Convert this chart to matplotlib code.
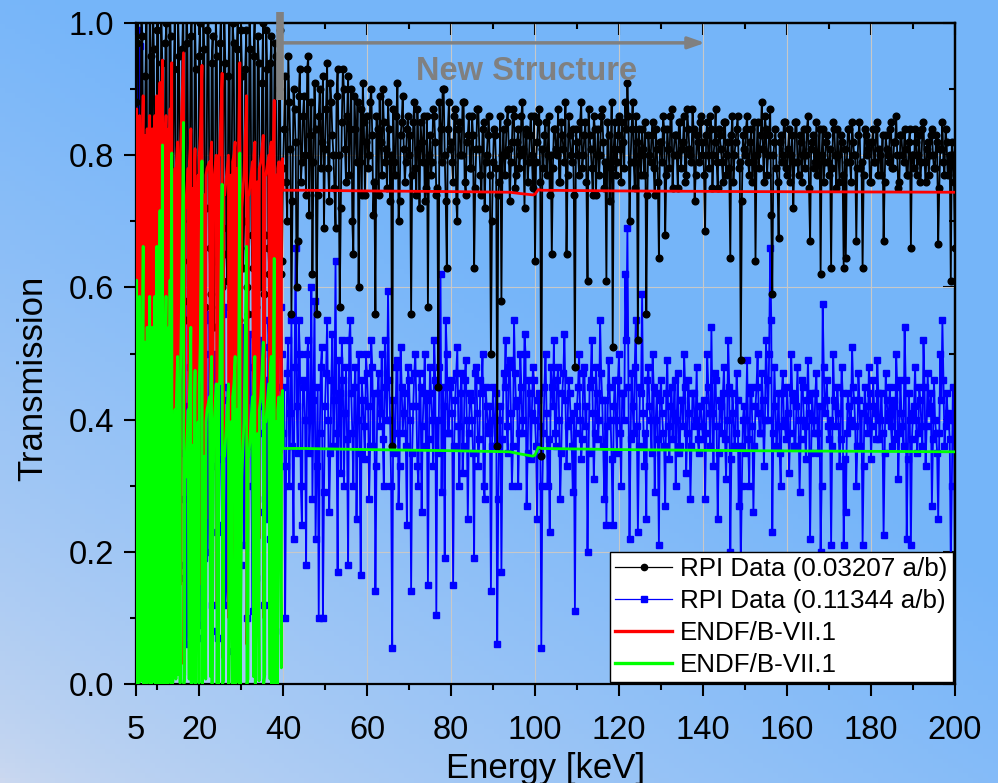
import numpy as np
import matplotlib
matplotlib.use("Agg")
import matplotlib.pyplot as plt
from matplotlib.lines import Line2D

plt.rcParams['font.family'] = ['Liberation Sans', 'DejaVu Sans']

# sample thicknesses (atoms/barn) from the legend
n_thin = 0.03207
n_thick = 0.11344

# RPI measured transmission, read on two interleaved 0.5 keV grids
energy_a = np.linspace(5, 200, 391)        # 5.0, 5.5, ... 200.0
energy_b = np.linspace(5.25, 199.75, 390)  # 5.25, 5.75, ... 199.75

thin_a = [
    0.88, 1.02, 0.62, 0.98, 0.70, 1.03, 0.58, 0.95, 1.04, 0.66, 0.99, 0.52, 1.02, 0.74, 0.97, 0.60, 1.05, 0.68, 0.93, 0.56,
    1.01, 0.72, 0.96, 0.58, 1.04, 0.64, 0.98, 0.50, 1.02, 0.70, 0.95, 0.61, 1.03, 0.57, 0.99, 0.66, 0.94, 0.54, 1.01, 0.69,
    0.97, 0.60, 1.03, 0.65, 0.92, 0.58, 1.00, 0.71, 0.96, 0.55, 0.99, 0.63, 0.93, 0.60, 1.02, 0.68, 0.95, 0.57, 0.98, 0.64,
    0.91, 0.59, 0.99, 0.66, 0.94, 0.61, 0.97, 0.70, 0.90, 0.62,
    0.78, 0.92, 0.70, 0.88, 0.56, 0.90, 0.82, 0.67, 0.93, 0.79, 0.89, 0.74, 0.95, 0.83, 0.62, 0.91, 0.56, 0.86, 0.78, 0.92,
    0.81, 0.94, 0.73, 0.88, 0.80, 0.69, 0.93, 0.57, 0.85, 0.90, 0.76, 0.92, 0.84, 0.70, 0.89, 0.79, 0.60, 0.87, 0.91, 0.74,
    0.86, 0.80, 0.90, 0.71, 0.56, 0.84, 0.89, 0.77, 0.85, 0.81, 0.88, 0.73, 0.36, 0.79, 0.86, 0.70, 0.83, 0.89, 0.76, 0.84,
    0.80, 0.56, 0.85, 0.78, 0.87, 0.72, 0.82, 0.86, 0.75, 0.57, 0.83, 0.79, 0.86, 0.74, 0.45, 0.84, 0.90, 0.80, 0.63, 0.88,
    0.82, 0.76, 0.87, 0.70, 0.85, 0.80, 0.88, 0.74, 0.83, 0.78, 0.86, 0.63, 0.81, 0.87, 0.77, 0.84, 0.72, 0.80, 0.86, 0.50,
    0.79, 0.83, 0.36, 0.76, 0.58, 0.84, 0.80, 0.87, 0.73, 0.82, 0.86, 0.77, 0.84, 0.80, 0.88, 0.72, 0.83, 0.79, 0.86, 0.75,
    0.64, 0.82, 0.87, 0.345, 0.78, 0.85, 0.80, 0.74, 0.65, 0.84, 0.81, 0.87, 0.76, 0.83, 0.79, 0.65, 0.86, 0.80, 0.84, 0.48,
    0.82, 0.77, 0.88, 0.80, 0.85, 0.61, 0.83, 0.78, 0.86, 0.74, 0.84, 0.80, 0.87, 0.75, 0.61, 0.83, 0.78, 0.51, 0.85, 0.79,
    0.86, 0.76, 0.82, 0.88, 0.91, 0.70, 0.84, 0.79, 0.86, 0.52, 0.80, 0.84, 0.77, 0.56, 0.83, 0.79, 0.85, 0.74, 0.81, 0.645,
    0.82, 0.86, 0.68, 0.84, 0.78, 0.87, 0.80, 0.83, 0.75, 0.85, 0.81, 0.86, 0.77, 0.84, 0.80, 0.87, 0.73, 0.83, 0.79, 0.86,
    0.82, 0.685, 0.85, 0.78, 0.84, 0.80, 0.87, 0.75, 0.83, 0.79, 0.85, 0.77, 0.82, 0.645, 0.86, 0.80, 0.84, 0.78, 0.49, 0.83,
    0.80, 0.86, 0.77, 0.84, 0.79, 0.64, 0.85, 0.81, 0.88, 0.76, 0.84, 0.80, 0.87, 0.59, 0.82, 0.78, 0.675, 0.83, 0.80, 0.85,
    0.77, 0.84, 0.80, 0.72, 0.85, 0.79, 0.83, 0.76, 0.84, 0.80, 0.86, 0.67, 0.82, 0.78, 0.85, 0.80, 0.62, 0.84, 0.79, 0.83,
    0.77, 0.63, 0.85, 0.80, 0.84, 0.76, 0.82, 0.63, 0.645, 0.84, 0.79, 0.85, 0.80, 0.67, 0.83, 0.78, 0.63, 0.84, 0.80, 0.82,
    0.76, 0.84, 0.79, 0.85, 0.81, 0.77, 0.67, 0.83, 0.80, 0.84, 0.78, 0.82, 0.86, 0.75, 0.83, 0.80, 0.84, 0.77, 0.82, 0.66,
    0.80, 0.84, 0.77, 0.83, 0.79, 0.85, 0.76, 0.82, 0.80, 0.84, 0.78, 0.83, 0.665, 0.81, 0.85, 0.77, 0.82, 0.79, 0.61, 0.80,
    0.66,
]
thin_b = [
    0.97, 0.60, 1.02, 0.75, 0.92, 0.55, 1.01, 0.68, 0.96, 0.59, 1.03, 0.71, 0.94, 0.63, 1.00, 0.57, 0.98, 0.73, 1.02, 0.61,
    0.95, 0.66, 1.03, 0.55, 0.97, 0.70, 1.01, 0.62, 0.93, 0.58, 1.00, 0.67, 0.96, 0.72, 1.02, 0.59, 0.98, 0.64, 0.95, 0.57,
    1.02, 0.69, 0.94, 0.61, 1.01, 0.74, 0.97, 0.58, 1.03, 0.66, 0.92, 0.70, 0.99, 0.56, 0.96, 0.63, 1.01, 0.72, 0.94, 0.60,
    1.00, 0.68, 0.93, 0.62, 0.98, 0.73, 0.95, 0.66, 0.99, 0.64,
    0.84, 0.76, 0.95, 0.81, 0.73, 0.87, 0.60, 0.89, 0.76, 0.86, 0.80, 0.93, 0.71, 0.88, 0.79, 0.84, 0.74, 0.90, 0.82, 0.69,
    0.87, 0.78, 0.91, 0.83, 0.75, 0.89, 0.80, 0.72, 0.93, 0.81, 0.86, 0.77, 0.90, 0.65, 0.84, 0.88, 0.79, 0.74, 0.85, 0.82,
    0.78, 0.88, 0.83, 0.76, 0.86, 0.74, 0.82, 0.90, 0.79, 0.75, 0.84, 0.80, 0.87, 0.77, 0.91, 0.73, 0.85, 0.81, 0.79, 0.86,
    0.83, 0.77, 0.88, 0.74, 0.81, 0.85, 0.79, 0.73, 0.86, 0.80, 0.77, 0.87, 0.82, 0.75, 0.88, 0.79, 0.90, 0.73, 0.84, 0.81,
    0.79, 0.86, 0.73, 0.84, 0.80, 0.88, 0.76, 0.82, 0.86, 0.78, 0.83, 0.75, 0.87, 0.81, 0.74, 0.85, 0.79, 0.83, 0.77, 0.70,
    0.84, 0.78, 0.74, 0.86, 0.80, 0.77, 0.85, 0.81, 0.79, 0.87, 0.75, 0.82, 0.78, 0.86, 0.81, 0.84, 0.76, 0.83, 0.80, 0.86,
    0.79, 0.85, 0.76, 0.81, 0.83, 0.77, 0.86, 0.80, 0.78, 0.84, 0.80, 0.76, 0.85, 0.81, 0.88, 0.77, 0.83, 0.79, 0.74, 0.84,
    0.80, 0.85, 0.78, 0.83, 0.76, 0.87, 0.81, 0.74, 0.84, 0.80, 0.77, 0.86, 0.82, 0.79, 0.85, 0.73, 0.88, 0.81, 0.77, 0.83,
    0.81, 0.85, 0.78, 0.84, 0.86, 0.79, 0.88, 0.75, 0.82, 0.84, 0.77, 0.81, 0.85, 0.74, 0.80, 0.83, 0.78, 0.84, 0.76, 0.82,
    0.79, 0.84, 0.77, 0.81, 0.86, 0.75, 0.83, 0.80, 0.85, 0.78, 0.82, 0.76, 0.87, 0.81, 0.79, 0.84, 0.77, 0.82, 0.85, 0.80,
    0.77, 0.83, 0.80, 0.86, 0.75, 0.82, 0.79, 0.84, 0.81, 0.76, 0.85, 0.80, 0.78, 0.83, 0.76, 0.82, 0.86, 0.79, 0.73, 0.81,
    0.84, 0.79, 0.82, 0.76, 0.85, 0.80, 0.78, 0.83, 0.81, 0.86, 0.77, 0.83, 0.71, 0.80, 0.84, 0.76, 0.82, 0.79, 0.85, 0.78,
    0.81, 0.76, 0.83, 0.79, 0.85, 0.77, 0.82, 0.80, 0.78, 0.84, 0.75, 0.81, 0.83, 0.79, 0.77, 0.84, 0.80, 0.76, 0.82, 0.79,
    0.81, 0.78, 0.84, 0.75, 0.80, 0.83, 0.77, 0.81, 0.79, 0.84, 0.76, 0.82, 0.80, 0.78, 0.85, 0.79, 0.77, 0.83, 0.81, 0.76,
    0.82, 0.79, 0.84, 0.77, 0.80, 0.83, 0.76, 0.81, 0.79, 0.85, 0.78, 0.82, 0.80, 0.76, 0.83, 0.79, 0.81, 0.77, 0.84, 0.80,
    0.78, 0.82, 0.80, 0.76, 0.84, 0.79, 0.81, 0.77, 0.83, 0.80, 0.78, 0.82, 0.75, 0.81, 0.79, 0.84, 0.77, 0.80, 0.82, 0.76,
]

thick_a = [
    0.42, 0.99, 0.965, 0.25, 0.52, 0.20, 0.45, 0.08, 0.40, 0.55, 0.15, 0.48, 0.05, 0.38, 0.58, 0.22, 0.44, 0.10, 0.50, 0.04,
    0.46, 0.18, 0.55, 0.28, 0.06, 0.42, 0.52, 0.14, 0.47, 0.25, 0.58, 0.09, 0.40, 0.50, 0.20, 0.56, 0.12, 0.44, 0.33, 0.07,
    0.49, 0.24, 0.57, 0.15, 0.43, 0.35, 0.05, 0.51, 0.28, 0.46, 0.18, 0.54, 0.38, 0.10, 0.48, 0.30, 0.56, 0.16, 0.42, 0.26,
    0.50, 0.12, 0.45, 0.55, 0.22, 0.48, 0.08, 0.52, 0.36, 0.57,
    0.38, 0.10, 0.47, 0.30, 0.55, 0.22, 0.66, 0.35, 0.50, 0.24, 0.45, 0.18, 0.52, 0.40, 0.28, 0.58, 0.33, 0.10, 0.48, 0.10,
    0.42, 0.55, 0.26, 0.46, 0.36, 0.64, 0.17, 0.44, 0.52, 0.30, 0.48, 0.18, 0.55, 0.38, 0.45, 0.25, 0.50, 0.165, 0.43, 0.34,
    0.47, 0.28, 0.52, 0.36, 0.14, 0.44, 0.39, 0.50, 0.30, 0.45, 0.595, 0.40, 0.055, 0.35, 0.48, 0.27, 0.51, 0.38, 0.44, 0.24,
    0.46, 0.14, 0.42, 0.50, 0.33, 0.47, 0.26, 0.44, 0.36, 0.15, 0.48, 0.40, 0.52, 0.105, 0.35, 0.62, 0.45, 0.19, 0.50, 0.38,
    0.46, 0.15, 0.43, 0.51, 0.30, 0.47, 0.36, 0.49, 0.25, 0.44, 0.40, 0.19, 0.48, 0.33, 0.46, 0.50, 0.28, 0.42, 0.38, 0.14,
    0.45, 0.36, 0.06, 0.40, 0.17, 0.47, 0.52, 0.35, 0.49, 0.30, 0.55, 0.42, 0.30, 0.50, 0.38, 0.53, 0.27, 0.46, 0.34, 0.48,
    0.40, 0.25, 0.44, 0.055, 0.38, 0.50, 0.30, 0.23, 0.45, 0.52, 0.36, 0.48, 0.28, 0.44, 0.53, 0.33, 0.46, 0.40, 0.29, 0.11,
    0.42, 0.50, 0.34, 0.47, 0.39, 0.20, 0.45, 0.52, 0.31, 0.48, 0.37, 0.55, 0.43, 0.28, 0.24, 0.49, 0.40, 0.24, 0.46, 0.35,
    0.50, 0.30, 0.44, 0.62, 0.69, 0.22, 0.47, 0.38, 0.55, 0.23, 0.45, 0.59, 0.33, 0.25, 0.48, 0.40, 0.50, 0.29, 0.44, 0.21,
    0.46, 0.38, 0.27, 0.49, 0.34, 0.45, 0.41, 0.30, 0.47, 0.36, 0.43, 0.50, 0.32, 0.46, 0.28, 0.44, 0.39, 0.48, 0.35, 0.42,
    0.37, 0.28, 0.50, 0.41, 0.54, 0.33, 0.46, 0.25, 0.43, 0.38, 0.48, 0.31, 0.52, 0.20, 0.44, 0.36, 0.47, 0.27, 0.18, 0.40,
    0.35, 0.49, 0.30, 0.45, 0.26, 0.42, 0.50, 0.38, 0.47, 0.33, 0.52, 0.40, 0.66, 0.23, 0.48, 0.36, 0.44, 0.30, 0.47, 0.39,
    0.45, 0.32, 0.50, 0.43, 0.36, 0.48, 0.29, 0.46, 0.40, 0.34, 0.49, 0.22, 0.44, 0.38, 0.47, 0.35, 0.20, 0.575, 0.41, 0.46,
    0.37, 0.21, 0.50, 0.42, 0.45, 0.33, 0.48, 0.21, 0.26, 0.44, 0.39, 0.51, 0.43, 0.30, 0.47, 0.36, 0.21, 0.45, 0.40, 0.48,
    0.34, 0.46, 0.41, 0.49, 0.37, 0.44, 0.225, 0.47, 0.40, 0.45, 0.36, 0.43, 0.50, 0.31, 0.46, 0.39, 0.54, 0.22, 0.44, 0.21,
    0.41, 0.48, 0.35, 0.45, 0.39, 0.52, 0.33, 0.47, 0.42, 0.27, 0.46, 0.38, 0.25, 0.50, 0.55, 0.36, 0.44, 0.40, 0.18, 0.45,
    0.17,
]
thick_b = [
    0.30, 0.55, 0.18, 0.47, 0.09, 0.52, 0.26, 0.42, 0.13, 0.57, 0.33, 0.06, 0.49, 0.21, 0.44, 0.54, 0.11, 0.39, 0.27, 0.50,
    0.16, 0.45, 0.35, 0.58, 0.10, 0.48, 0.24, 0.53, 0.31, 0.07, 0.46, 0.37, 0.19, 0.55, 0.29, 0.41, 0.08, 0.50, 0.23, 0.47,
    0.34, 0.56, 0.12, 0.45, 0.27, 0.52, 0.40, 0.14, 0.55, 0.32, 0.47, 0.21, 0.43, 0.36, 0.53, 0.11, 0.49, 0.28, 0.44, 0.52,
    0.38, 0.46, 0.25, 0.51, 0.41, 0.30, 0.54, 0.45, 0.33, 0.50,
    0.45, 0.33, 0.52, 0.41, 0.36, 0.48, 0.42, 0.55, 0.30, 0.46, 0.40, 0.50, 0.35, 0.60, 0.43, 0.22, 0.45, 0.38, 0.51, 0.29,
    0.47, 0.40, 0.35, 0.53, 0.43, 0.38, 0.49, 0.32, 0.46, 0.41, 0.37, 0.52, 0.44, 0.30, 0.48, 0.40, 0.35, 0.46, 0.39, 0.50,
    0.42, 0.36, 0.48, 0.44, 0.33, 0.47, 0.41, 0.37, 0.52, 0.40, 0.46, 0.30, 0.43, 0.38, 0.49, 0.33, 0.45, 0.41, 0.36, 0.48,
    0.40, 0.35, 0.47, 0.42, 0.30, 0.45, 0.39, 0.50, 0.43, 0.37, 0.44, 0.33, 0.46, 0.40, 0.48, 0.29, 0.42, 0.55, 0.38, 0.45,
    0.41, 0.36, 0.47, 0.39, 0.44, 0.32, 0.46, 0.40, 0.38, 0.43, 0.35, 0.47, 0.41, 0.37, 0.44, 0.30, 0.45, 0.39, 0.42, 0.36,
    0.40, 0.44, 0.28, 0.42, 0.37, 0.45, 0.39, 0.48, 0.41, 0.36, 0.47, 0.43, 0.38, 0.45, 0.40, 0.50, 0.35, 0.44, 0.41, 0.46,
    0.36, 0.43, 0.39, 0.30, 0.45, 0.41, 0.37, 0.48, 0.42, 0.38, 0.46, 0.40, 0.35, 0.47, 0.43, 0.39, 0.44, 0.36, 0.41, 0.38,
    0.45, 0.40, 0.37, 0.48, 0.42, 0.35, 0.46, 0.41, 0.38, 0.44, 0.40, 0.47, 0.36, 0.43, 0.39, 0.45, 0.34, 0.42, 0.40, 0.46,
    0.38, 0.44, 0.40, 0.52, 0.45, 0.37, 0.42, 0.48, 0.39, 0.36, 0.44, 0.41, 0.38, 0.46, 0.42, 0.35, 0.45, 0.40, 0.37, 0.43,
    0.41, 0.36, 0.44, 0.39, 0.42, 0.37, 0.46, 0.40, 0.35, 0.43, 0.39, 0.45, 0.38, 0.41, 0.36, 0.44, 0.40, 0.37, 0.42, 0.39,
    0.43, 0.38, 0.45, 0.36, 0.41, 0.47, 0.39, 0.35, 0.42, 0.44, 0.37, 0.40, 0.45, 0.34, 0.41, 0.38, 0.43, 0.36, 0.30, 0.42,
    0.40, 0.37, 0.44, 0.39, 0.36, 0.45, 0.41, 0.38, 0.43, 0.40, 0.46, 0.50, 0.55, 0.38, 0.42, 0.39, 0.35, 0.44, 0.40, 0.37,
    0.41, 0.38, 0.44, 0.36, 0.42, 0.40, 0.37, 0.45, 0.39, 0.43, 0.41, 0.35, 0.40, 0.44, 0.38, 0.42, 0.30, 0.48, 0.43, 0.39,
    0.40, 0.36, 0.43, 0.39, 0.41, 0.37, 0.44, 0.34, 0.38, 0.42, 0.40, 0.45, 0.39, 0.36, 0.43, 0.41, 0.33, 0.42, 0.38, 0.44,
    0.39, 0.42, 0.37, 0.44, 0.40, 0.38, 0.35, 0.43, 0.41, 0.39, 0.42, 0.37, 0.45, 0.38, 0.41, 0.36, 0.46, 0.34, 0.40, 0.37,
    0.42, 0.40, 0.38, 0.43, 0.36, 0.45, 0.39, 0.41, 0.44, 0.37, 0.40, 0.35, 0.38, 0.43, 0.46, 0.39, 0.41, 0.37, 0.30, 0.40,
]

# ENDF/B-VII.1 calculated transmission for the thin sample (resonance region + smooth part)
endf_e = [
    5.0, 5.15, 5.25, 5.45, 5.7, 5.85, 6.0, 6.25, 6.55, 6.7, 6.8, 7.0, 7.15, 7.3, 7.45, 7.65, 7.9, 8.1, 8.25, 8.35,
    8.6, 8.85, 9.05, 9.3, 9.5, 9.6, 9.85, 9.95, 10.05, 10.3, 10.55, 10.7, 10.8, 11.05, 11.3, 11.4, 11.7, 11.95, 12.15, 12.25,
    12.55, 12.8, 13.1, 13.5, 13.6, 13.95, 14.3, 14.7, 14.9, 15.0, 15.3, 15.8, 16.3, 16.4, 16.8, 17.4, 17.9, 18.05, 18.15, 18.6,
    19.05, 19.2, 19.3, 19.8, 20.3, 20.7, 20.8, 21.3, 21.9, 22.5, 23.0, 23.1, 23.5, 24.1, 24.3, 24.4, 24.9, 25.5, 25.6, 26.1,
    26.7, 27.0, 27.1, 27.6, 28.3, 28.6, 28.7, 29.1, 29.7, 29.8, 30.2, 30.7, 31.3, 31.4, 31.9, 32.7, 33.3, 33.4, 33.9, 34.7,
    35.3, 35.4, 35.9, 36.6, 37.2, 37.3, 37.7, 37.9, 38.0, 38.4, 39.0, 39.9, 40.0, 45.0, 60.0, 80.0, 94.0, 96.5, 99.5, 100.0,
    100.8, 101.5, 120.0, 150.0, 200.0,
    # smaller resonances in between
    5.05, 5.1, 5.55, 5.6, 6.4, 6.45, 6.9, 6.95, 7.55, 7.6, 8.0, 8.05, 8.45, 8.5, 8.7, 8.75, 9.2, 9.25, 9.7, 9.75,
    10.15, 10.2, 10.4, 10.45, 10.9, 10.95, 11.55, 11.6, 11.85, 11.9, 12.4, 12.45, 12.65, 12.7, 12.95, 13.0, 13.25, 13.3,
    13.8, 13.85, 14.5, 14.55, 15.5, 15.55, 16.6, 16.65, 17.65, 17.7,
    18.85, 18.9, 20.0, 20.05, 21.6, 21.65, 22.75, 22.8,
    24.65, 24.7, 25.85, 25.9, 27.95, 28.0, 29.4, 29.45,
    31.65, 31.7, 33.0, 33.05, 34.3, 34.35, 35.65, 35.7,
    36.9, 36.95, 38.7, 38.75, 39.6, 39.65,
]
endf_thin = [
    0.84, 0.87, 0.08, 0.70, 0.82, 0.86, 0.20, 0.78, 0.84, 0.89, 0.12, 0.72, 0.83, 0.25, 0.79, 0.84, 0.30, 0.80, 0.86, 0.10,
    0.78, 0.84, 0.40, 0.82, 0.86, 0.06, 0.80, 0.89, 0.22, 0.79, 0.84, 0.91, 0.10, 0.80, 0.944, 0.04, 0.76, 0.83, 0.86, 0.09,
    0.78, 0.84, 0.87, 0.94, 0.05, 0.70, 0.78, 0.80, 0.82, 0.30, 0.78, 0.85, 0.955, 0.03, 0.72, 0.78, 0.81, 0.84, 0.10, 0.75,
    0.81, 0.14, 0.60, 0.77, 0.83, 0.936, 0.05, 0.74, 0.78, 0.79, 0.82, 0.08, 0.76, 0.80, 0.12, 0.55, 0.80, 0.924, 0.04, 0.74,
    0.78, 0.80, 0.10, 0.77, 0.80, 0.82, 0.14, 0.78, 0.94, 0.05, 0.72, 0.77, 0.89, 0.06, 0.74, 0.79, 0.82, 0.08, 0.76, 0.79,
    0.83, 0.10, 0.77, 0.80, 0.82, 0.12, 0.80, 0.883, 0.06, 0.77, 0.79, 0.795, 0.747, 0.747, 0.746, 0.745, 0.744, 0.742, 0.740, 0.741,
    0.748, 0.747, 0.746, 0.745, 0.744,
    0.30, 0.80, 0.15, 0.76, 0.25, 0.80, 0.35, 0.70, 0.10, 0.78, 0.20, 0.78, 0.30, 0.74, 0.15, 0.79, 0.20, 0.78, 0.25, 0.78,
    0.35, 0.76, 0.10, 0.80, 0.30, 0.78, 0.20, 0.74, 0.12, 0.80, 0.25, 0.76, 0.15, 0.80, 0.30, 0.82, 0.18, 0.84,
    0.20, 0.70, 0.25, 0.78, 0.15, 0.80, 0.30, 0.72, 0.25, 0.79,
    0.18, 0.78, 0.15, 0.80, 0.25, 0.77, 0.28, 0.80,
    0.15, 0.80, 0.22, 0.74, 0.12, 0.79, 0.18, 0.82,
    0.25, 0.74, 0.28, 0.80, 0.22, 0.78, 0.30, 0.77,
    0.25, 0.81, 0.12, 0.78, 0.35, 0.79,
]
# the thick-sample curve is the same evaluation: T_thick = T_thin ** (n_thick / n_thin)

energy = np.concatenate([energy_a, energy_b])
order = np.argsort(energy)
energy = energy[order]
rpi_thin = np.concatenate([thin_a, thin_b])[order]
rpi_thick = np.concatenate([thick_a, thick_b])[order]

e_order = np.argsort(endf_e)
endf_x = np.array(endf_e)[e_order]
endf_y1 = np.array(endf_thin)[e_order]
endf_y2 = endf_y1 ** (n_thick / n_thin)

fig = plt.figure(figsize=(9.98, 7.83), dpi=100)

# light-blue gradient backdrop
bg = fig.add_axes([0, 0, 1, 1], zorder=-5)
gx, gy = np.meshgrid(np.linspace(0, 1, 200), np.linspace(1, 0, 160))
s = np.clip(gx * 0.75 + gy * 0.95, 0, 1) ** 0.7
light = np.array([0.80, 0.85, 0.94])
blue = np.array([0.46, 0.71, 0.98])
img = light[None, None, :] * (1 - s[..., None]) + blue[None, None, :] * s[..., None]
bg.imshow(img, aspect='auto', extent=[0, 1, 0, 1])
bg.axis('off')

ax = fig.add_axes([0.1363, 0.1264, 0.8206, 0.8442])
ax.set_facecolor('none')

ax.plot(energy, rpi_thick, color='#0000ff', lw=1.3, marker='s', ms=4.2, zorder=2)
ax.plot(energy, rpi_thin, color='black', lw=1.3, marker='o', ms=4.8, zorder=3)
ax.plot(endf_x, endf_y1, color='#ff0000', lw=2.0, zorder=4)
ax.plot(endf_x, endf_y2, color='#00ff00', lw=2.0, zorder=5)

xmaj = [5, 20, 40, 60, 80, 100, 120, 140, 160, 180, 200]
xmin = [10, 30, 50, 70, 90, 110, 130, 150, 170, 190]
ymaj = [0.0, 0.2, 0.4, 0.6, 0.8, 1.0]
ymin = [0.1, 0.3, 0.5, 0.7, 0.9]

ax.set_xlim(5, 200)
ax.set_ylim(0, 1)
ax.set_xticks(xmaj)
ax.set_xticks(xmin, minor=True)
ax.set_yticks(ymaj)
ax.set_yticks(ymin, minor=True)
ax.yaxis.set_major_formatter(plt.FormatStrFormatter('%.1f'))
ax.grid(True, which='major', color='#c8c8c8', lw=0.8, zorder=0)
ax.set_axisbelow(True)

for sp in ax.spines.values():
    sp.set_linewidth(1.6)
ax.tick_params(which='both', direction='out', width=1.5, labelsize=23.5, top=False, right=False)
ax.tick_params(which='major', length=8.5)
ax.tick_params(which='minor', length=4.5)
ax.tick_params(axis='x', which='major', pad=14)
ax.tick_params(axis='y', which='major', pad=7)

# mirrored ticks on top/right pointing inward
ax_t = ax.secondary_xaxis('top')
ax_t.set_xticks(xmaj)
ax_t.set_xticks(xmin, minor=True)
ax_t.tick_params(which='both', direction='in', width=1.5, labeltop=False)
ax_t.tick_params(which='major', length=8.5)
ax_t.tick_params(which='minor', length=4.5)
ax_t.spines['top'].set_linewidth(1.6)
ax_r = ax.secondary_yaxis('right')
ax_r.set_yticks(ymaj)
ax_r.set_yticks(ymin, minor=True)
ax_r.tick_params(which='both', direction='in', width=1.5, labelright=False)
ax_r.tick_params(which='major', length=8.5)
ax_r.tick_params(which='minor', length=4.5)
ax_r.spines['right'].set_linewidth(1.6)

ax.set_xlabel('Energy [keV]', fontsize=25, labelpad=4)
ax.set_ylabel('Transmission', fontsize=25, labelpad=14)
ax.yaxis.label.set_y(0.463)

# "New Structure" marker
gray = '#808080'
ax.plot([39.2, 39.2], [0.884, 1.017], color=gray, lw=5.5, solid_capstyle='butt', clip_on=False, zorder=8)
ax.annotate('', xy=(140.5, 0.970), xytext=(40.0, 0.970),
            arrowprops=dict(arrowstyle='-|>,head_length=1.0,head_width=0.35', color=gray, lw=2.5,
                            shrinkA=0, shrinkB=0), zorder=8)
ax.text(98, 0.927, 'New Structure', color=gray, fontsize=23.5, fontweight='bold',
        ha='center', va='center', zorder=8)

handles = [
    Line2D([], [], color='black', lw=0.9, marker='o', ms=4.5),
    Line2D([], [], color='#0000ff', lw=0.9, marker='s', ms=4),
    Line2D([], [], color='#ff0000', lw=2.4),
    Line2D([], [], color='#00ff00', lw=2.4),
]
labels = ['RPI Data (0.03207 a/b)', 'RPI Data (0.11344 a/b)', 'ENDF/B-VII.1', 'ENDF/B-VII.1']
leg = ax.legend(handles, labels, loc='lower right', bbox_to_anchor=(0.997, 0.003), borderaxespad=0,
                fontsize=18.7, fancybox=False, framealpha=1, edgecolor='black', handlelength=2.2,
                labelspacing=0.3, borderpad=0.2, handletextpad=0.3)
leg.get_frame().set_linewidth(1.0)
leg.set_zorder(10)

fig.savefig('out.png', dpi=100)
